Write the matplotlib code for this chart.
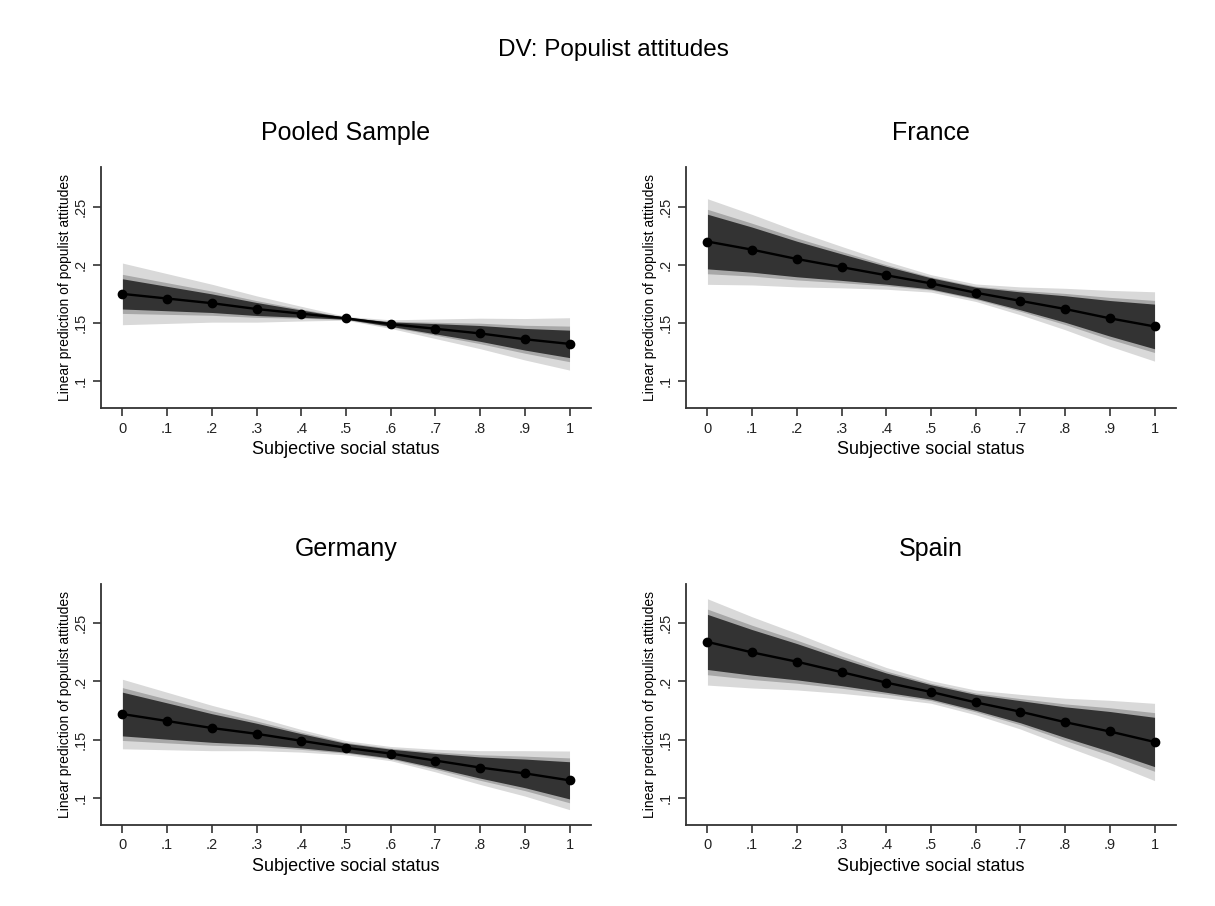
import matplotlib.pyplot as plt
import numpy as np

plt.rcParams["font.family"] = ["Liberation Sans", "DejaVu Sans"]

# predicted values at each level of subjective social status
status = [0, .1, .2, .3, .4, .5, .6, .7, .8, .9, 1]
x_ticklabels = ["0", ".1", ".2", ".3", ".4", ".5", ".6", ".7", ".8", ".9", "1"]
y_ticks = [.1, .15, .2, .25]
y_ticklabels = [".1", ".15", ".2", ".25"]

titles = ["Pooled Sample", "France", "Germany", "Spain"]

# fitted values
pooled_fit = [.175, .171, .167, .162, .158, .154, .149, .145, .141, .136, .132]
france_fit = [.220, .213, .205, .198, .191, .184, .176, .169, .162, .154, .147]
germany_fit = [.172, .166, .160, .155, .149, .143, .138, .132, .126, .121, .115]
spain_fit = [.234, .225, .217, .208, .199, .191, .182, .174, .165, .157, .148]

# half-widths of the confidence bands (inner, middle, outer)
pooled_inner = [.0130, .0105, .0080, .0056, .0031, .0008, .0019, .0044, .0068, .0093, .0118]
pooled_mid = [.0168, .0136, .0104, .0072, .0040, .0010, .0024, .0056, .0088, .0120, .0153]
pooled_outer = [.0265, .0214, .0163, .0113, .0063, .0016, .0037, .0084, .0131, .0178, .0225]

france_inner = [.0235, .0194, .0153, .0114, .0077, .0048, .0048, .0077, .0114, .0153, .0192]
france_mid = [.0277, .0227, .0180, .0134, .0090, .0056, .0056, .0090, .0134, .0180, .0224]
france_outer = [.0368, .0303, .0240, .0178, .0120, .0075, .0075, .0120, .0178, .0240, .0298]

germany_inner = [.0188, .0156, .0123, .0091, .0061, .0038, .0038, .0061, .0091, .0123, .0160]
germany_mid = [.0227, .0188, .0148, .0110, .0074, .0046, .0046, .0074, .0110, .0148, .0193]
germany_outer = [.0299, .0247, .0195, .0145, .0097, .0061, .0061, .0097, .0145, .0195, .0252]

spain_inner = [.0237, .0196, .0156, .0116, .0083, .0062, .0068, .0095, .0132, .0172, .0212]
spain_mid = [.0282, .0233, .0185, .0138, .0099, .0074, .0081, .0113, .0157, .0204, .0252]
spain_outer = [.0371, .0306, .0243, .0182, .0130, .0097, .0106, .0149, .0206, .0268, .0332]

fits = [pooled_fit, france_fit, germany_fit, spain_fit]
inners = [pooled_inner, france_inner, germany_inner, spain_inner]
mids = [pooled_mid, france_mid, germany_mid, spain_mid]
outers = [pooled_outer, france_outer, germany_outer, spain_outer]

fig = plt.figure(figsize=(12.15, 9.06), dpi=100)
fig.text(0.505, 0.945, "DV: Populist attitudes", ha="center", va="center", fontsize=17.5)

positions = [
    [0.0831, 0.5493, 0.4033, 0.266],
    [0.5646, 0.5493, 0.4033, 0.266],
    [0.0831, 0.0894, 0.4033, 0.266],
    [0.5646, 0.0894, 0.4033, 0.266],
]

axis_color = "#333333"

for pos, title, fit, inner, mid, outer in zip(positions, titles, fits, inners, mids, outers):
    ax = fig.add_axes(pos)
    x = np.array(status)
    y = np.array(fit)
    ax.fill_between(x, y - np.array(outer), y + np.array(outer), color="#d9d9d9", lw=0)
    ax.fill_between(x, y - np.array(mid), y + np.array(mid), color="#a8a8a8", lw=0)
    ax.fill_between(x, y - np.array(inner), y + np.array(inner), color="#333333", lw=0)
    ax.plot(x, y, color="black", lw=1.7, marker="o", markersize=6)

    ax.set_xlim(-0.048, 1.048)
    ax.set_ylim(0.0766, 0.2838)
    ax.set_xticks(status)
    ax.set_xticklabels(x_ticklabels)
    ax.set_yticks(y_ticks)
    ax.set_yticklabels(y_ticklabels, rotation=90, va="center")

    for side in ["top", "right"]:
        ax.spines[side].set_visible(False)
    for side in ["left", "bottom"]:
        ax.spines[side].set_color(axis_color)
        ax.spines[side].set_linewidth(1.3)
    ax.tick_params(length=6, width=1.2, color=axis_color, labelsize=10.5,
                   labelcolor="#222222", pad=3.5)

    ax.set_title(title, fontsize=18, pad=20)
    ax.set_xlabel("Subjective social status", fontsize=13, labelpad=4)
    ax.set_ylabel("Linear prediction of populist attitudes", fontsize=10, labelpad=1)

fig.savefig("out.png", dpi=100)
